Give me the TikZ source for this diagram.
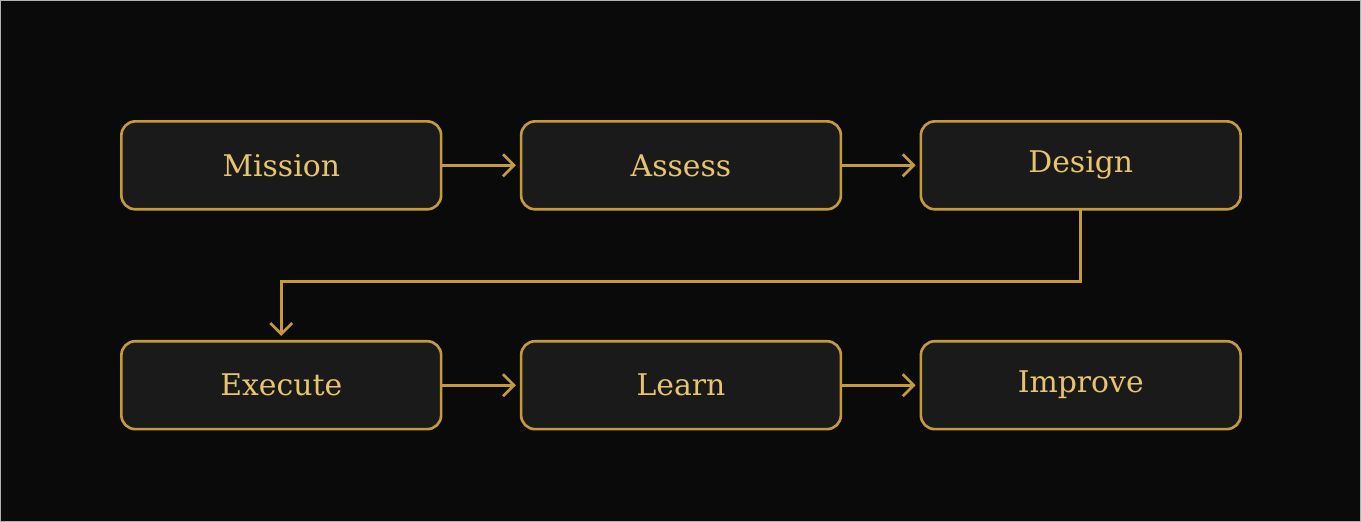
\documentclass[tikz,border=0pt]{standalone}
\usepackage{fontspec}
\setmainfont{DejaVu Serif}
\usetikzlibrary{arrows.meta,positioning}
\definecolor{bgdark}{HTML}{0A0A0A}
\definecolor{boxfill}{HTML}{1A1A1A}
\definecolor{gold}{HTML}{C49A3E}
\definecolor{goldtext}{HTML}{E8C46C}

\begin{document}
\begin{tikzpicture}[
	stage/.style={rectangle,rounded corners=0.28cm,draw=gold,fill=boxfill,line width=1.5pt,outer sep=0pt,
		minimum width=6.4cm,minimum height=1.76cm,text=goldtext,font=\fontsize{17}{20}\selectfont},
	flow/.style={draw=gold,line width=1.5pt,shorten >=3pt,-{Straight Barb[length=2.2mm,width=4.4mm]}}]
\fill[bgdark,draw=gray!60,line width=0.5pt] (0,0) rectangle (27.22,10.42);
\useasboundingbox (0,0) rectangle (27.22,10.42);
\node (mission)[stage] at (5.62,7.12) {Mission};
\node (assess)[stage,right=1.6cm of mission] {Assess};
\node (design)[stage,right=1.6cm of assess] {Design};
\node (execute)[stage] at (5.62,2.72) {Execute};
\node (learn)[stage,right=1.6cm of execute] {Learn};
\node (improve)[stage,right=1.6cm of learn] {Improve};
\coordinate (bend) at (0,4.8);
\draw [flow](mission) -- (assess);
\draw [flow](assess) -- (design);
\draw [flow](design.south) |- (bend -| execute.north) -- (execute.north);
\draw [flow](execute) -- (learn);
\draw [flow](learn) -- (improve);
\end{tikzpicture}
\end{document}
